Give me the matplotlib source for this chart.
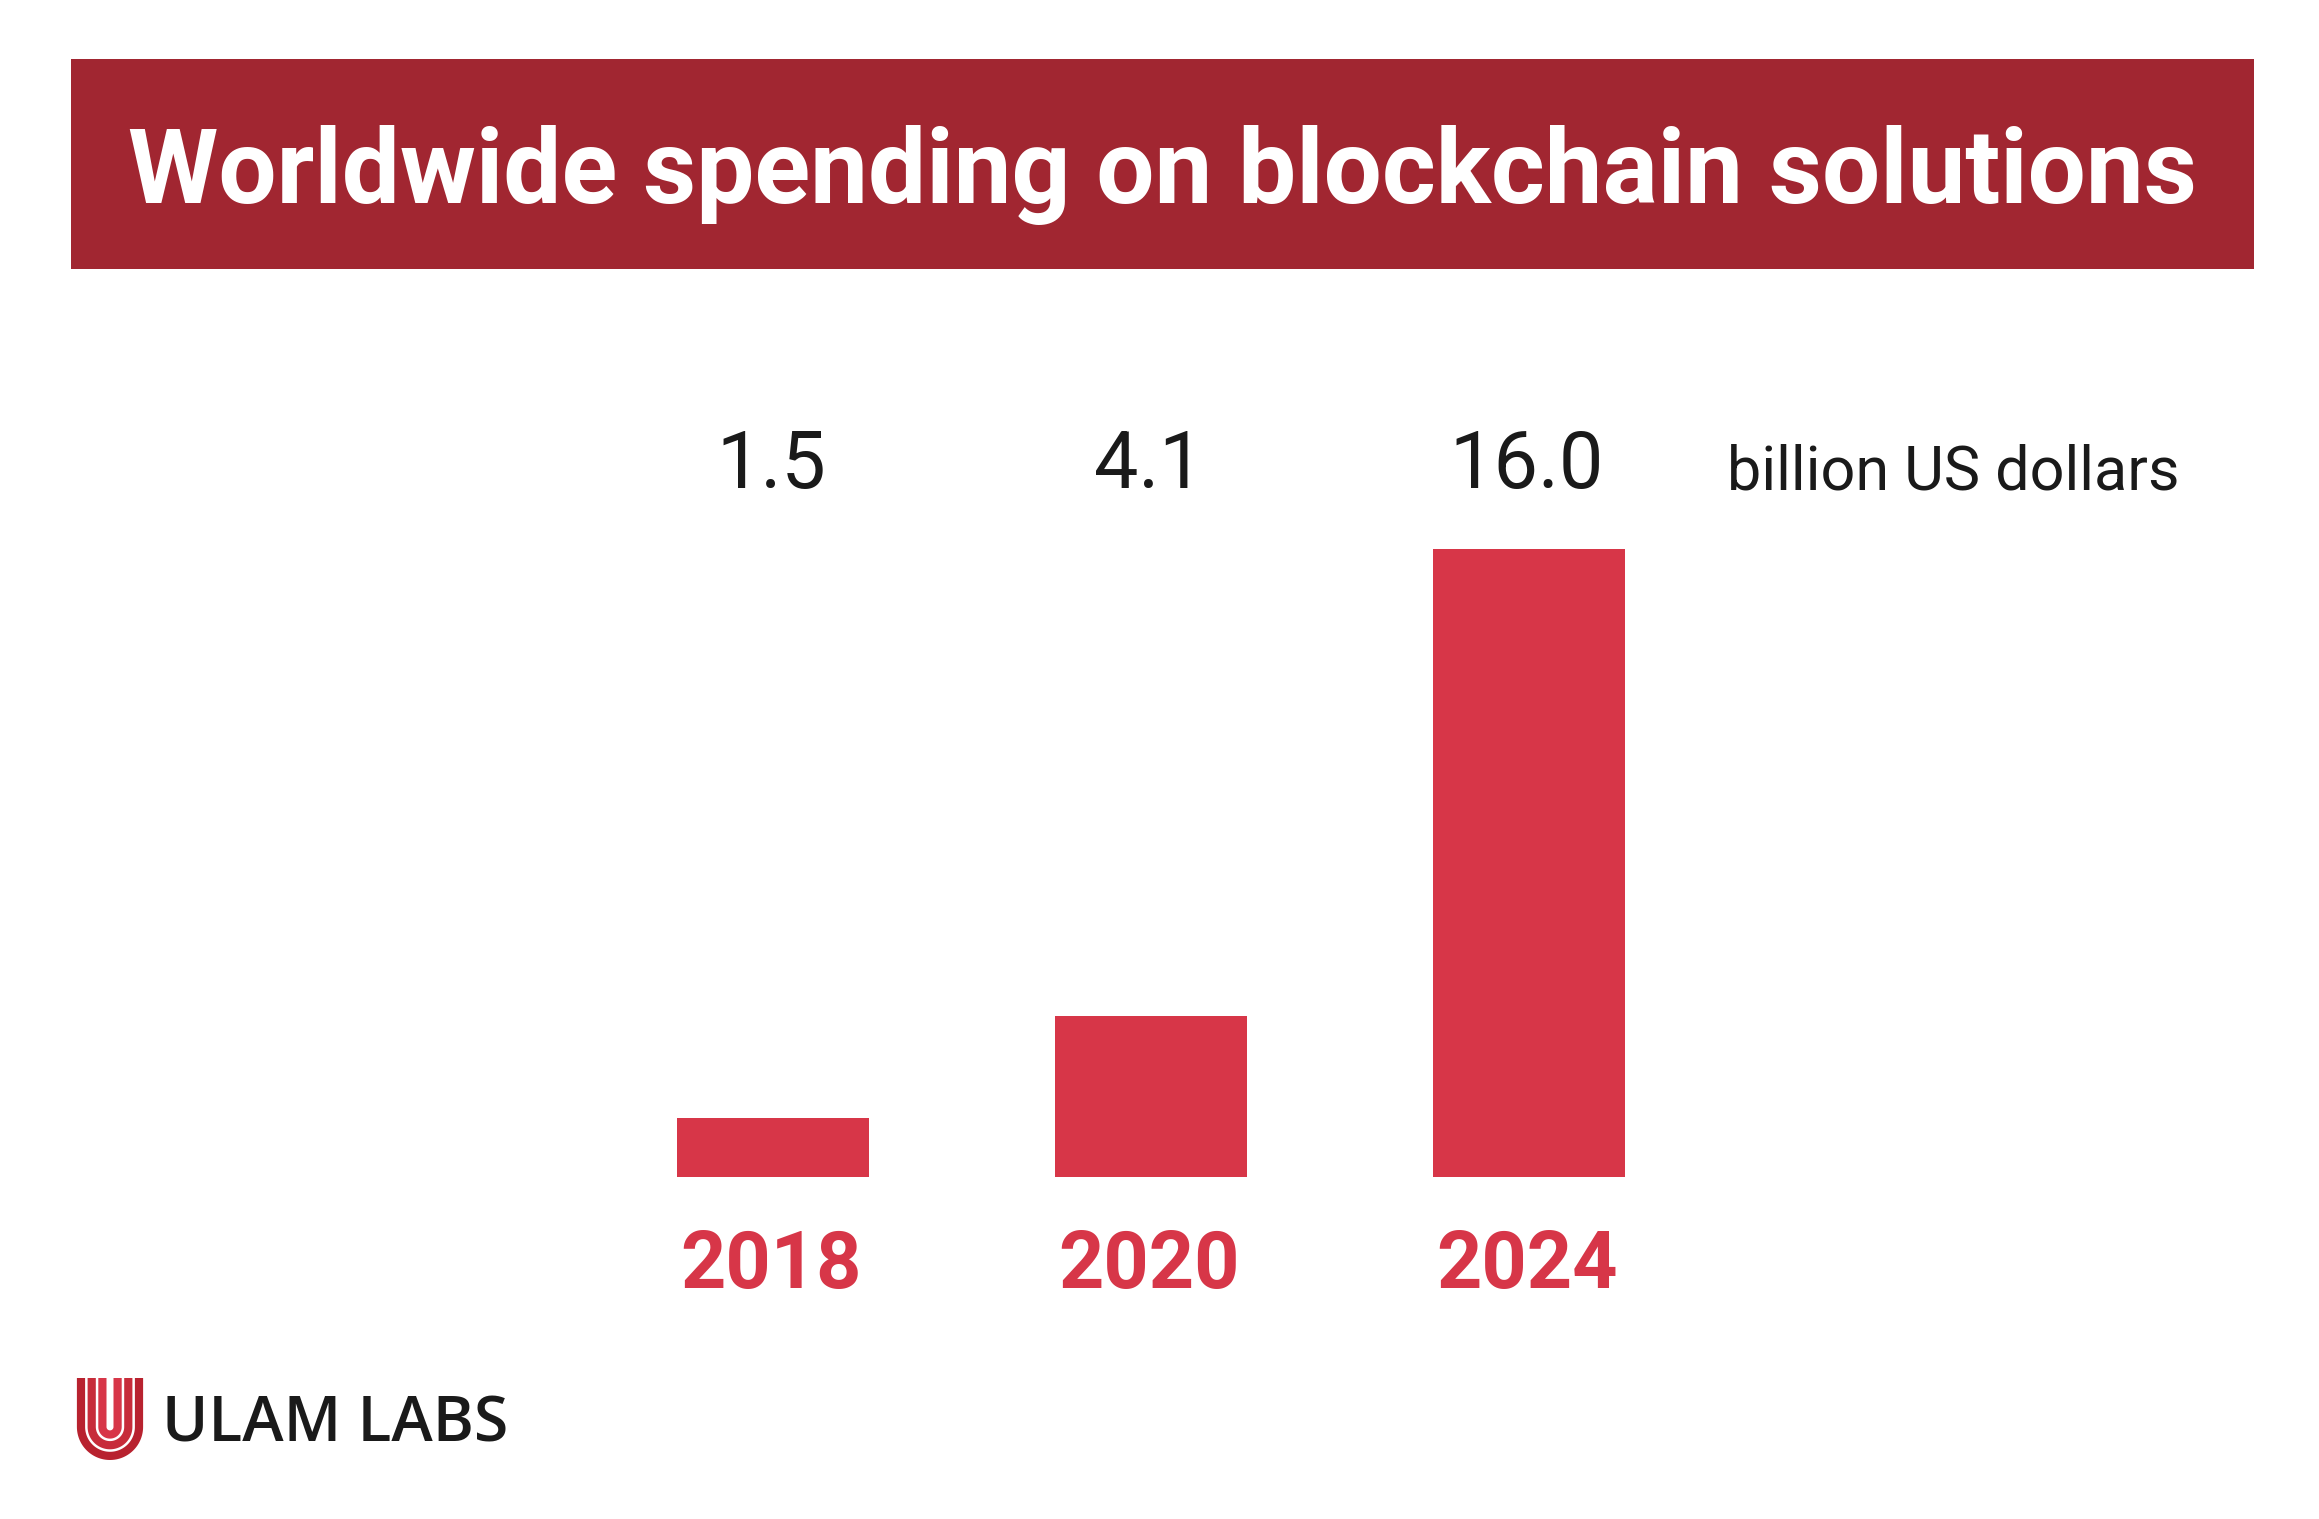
import numpy as np
import matplotlib
matplotlib.use("Agg")
import matplotlib.pyplot as plt
from matplotlib.patches import Rectangle
import matplotlib.transforms as mtransforms

# ---- data ----
years = ["2018", "2020", "2024"]
values = [1.5, 4.1, 16.0]
value_labels = ["1.5", "4.1", "16.0"]
unit_label = "billion US dollars"
title = "Worldwide spending on blockchain solutions"
brand = "ULAM LABS"

W, H = 2319, 1519
DPI = 100
BANNER = "#A12631"
BAR = "#D73648"
TXT = "#1a1a1a"

fig = plt.figure(figsize=(W / DPI, H / DPI), dpi=DPI, facecolor="white")

def fx(px):
    return px / W

def fy(py_top):
    return 1 - py_top / H

# Banner
fig.patches.append(Rectangle((fx(71), fy(269)), fx(2254 - 71), (269 - 59) / H,
                             transform=fig.transFigure, facecolor=BANNER,
                             edgecolor="none", zorder=0))
fig.text(fx(1163), fy(203), title, ha="center", va="baseline", color="white",
         fontsize=74.3, fontweight="bold", family="Roboto")

# Bar axes
spacing = 378
left = 773 - spacing / 2
bottom_px = 1177
top_px = 549
ax = fig.add_axes([fx(left), fy(bottom_px), fx(3 * spacing), (bottom_px - top_px) / H])
x = np.arange(len(years))
ax.bar(x, values, width=0.508, color=BAR, zorder=2)
ax.set_xlim(-0.5, len(years) - 0.5)
ax.set_ylim(0, max(values))
ax.axis("off")

trans = mtransforms.blended_transform_factory(ax.transData, fig.transFigure)
for xi, lab in zip(x, value_labels):
    ax.text(xi - 0.005, fy(488), lab, transform=trans, ha="center", va="baseline",
            fontsize=57, color=TXT, family="Roboto")
for xi, yr in zip(x, years):
    ax.text(xi - 0.005, fy(1288), yr, transform=trans, ha="center", va="baseline",
            fontsize=57, fontweight="bold", color=BAR, family="Roboto")

fig.text(fx(1727), fy(490), unit_label, ha="left", va="baseline",
         fontsize=44, color=TXT, family="Roboto")

# Logo
lax = fig.add_axes([0, 0, 1, 1], zorder=-1)
lax.set_xlim(0, W)
lax.set_ylim(H, 0)
lax.axis("off")
cx = 110
top = 1378
bottom = 1460
sw = 8.2
for r, col in [(29.0, "#B8222F"), (18.3, "#C72C3A"), (7.6, "#D73648")]:
    by = bottom - (29.0 - r) - sw / 2
    arc_c = by - r
    th = np.linspace(np.pi, 0, 60)
    xs = np.concatenate([[cx - r], cx + r * np.cos(th), [cx + r]])
    ys = np.concatenate([[top], arc_c + r * np.sin(th), [top]])
    lax.plot(xs, ys, color=col, lw=sw * 72 / DPI, solid_capstyle="butt",
             solid_joinstyle="round")
fig.text(fx(162), fy(1442), brand, ha="left", va="baseline", fontsize=45,
         color=TXT, family="Open Sans", fontweight="semibold")

fig.savefig("out.png", dpi=DPI, facecolor="white")
